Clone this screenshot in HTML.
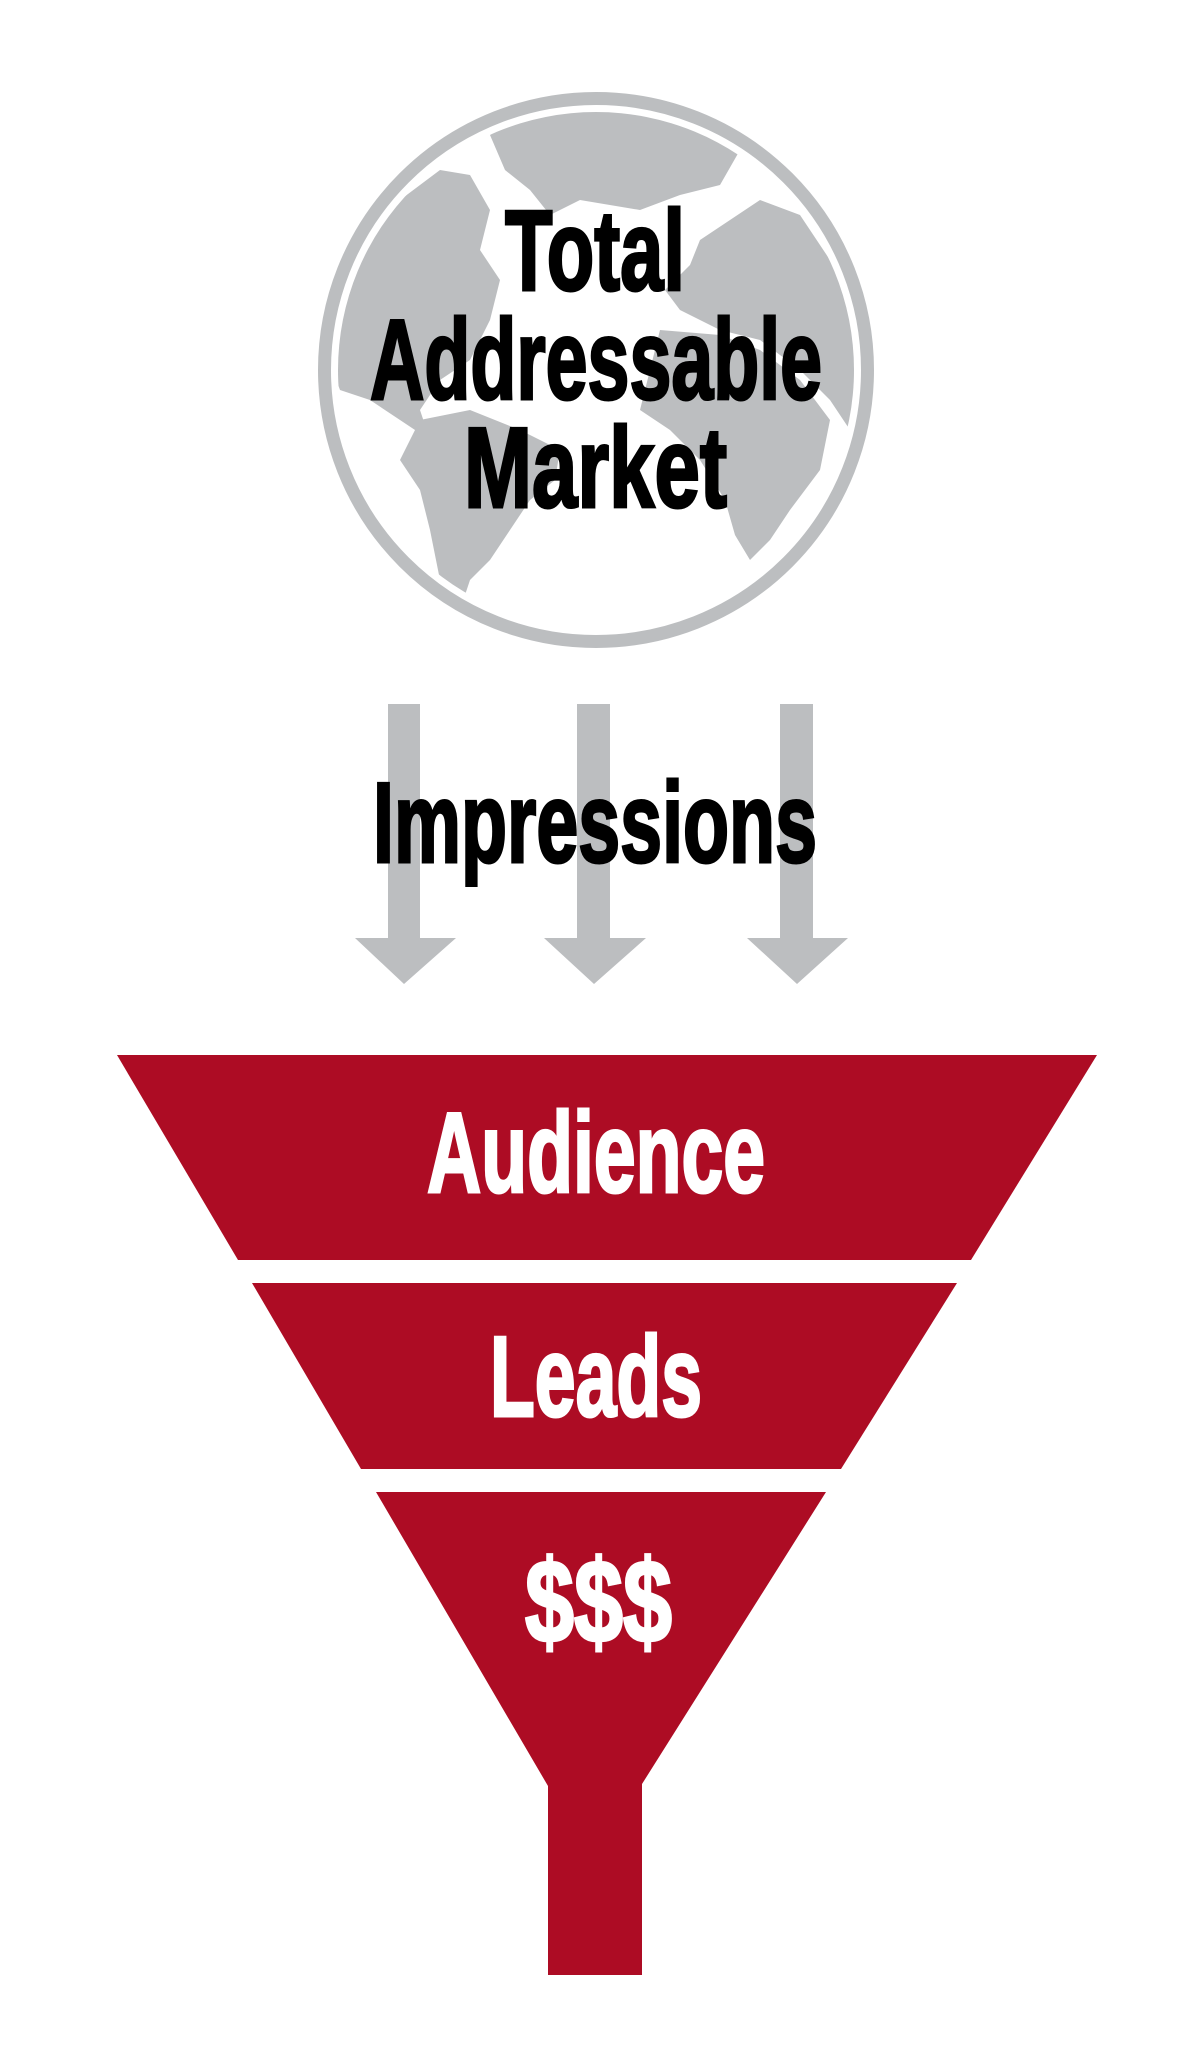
<!DOCTYPE html>
<html><head><meta charset="utf-8"><style>
html,body{margin:0;padding:0;background:#fff;}
svg{display:block;}
text{font-family:"Liberation Sans Narrow","Liberation Sans",sans-serif;font-weight:bold;}
</style></head><body>
<svg width="1194" height="2048" viewBox="0 0 1194 2048" xmlns="http://www.w3.org/2000/svg">
<defs><clipPath id="c"><circle cx="596" cy="370" r="258"/></clipPath></defs>
<circle cx="596" cy="370" r="271.5" fill="none" stroke="#bcbec0" stroke-width="13"/>
<g clip-path="url(#c)" fill="#bcbec0">
<polygon points="490,135 520,110 600,100 700,115 740,150 720,185 680,195 640,210 580,200 550,215 530,190 505,170"/>
<polygon points="325,300 360,240 400,200 440,170 470,175 490,210 480,250 500,280 490,320 470,360 440,380 420,410 430,440 400,420 370,400 340,390 325,350"/>
<polygon points="700,240 760,200 800,215 830,260 860,320 870,400 850,430 830,400 800,370 760,340 720,330 680,310 665,290 690,265"/>
<polygon points="660,330 720,335 760,350 800,380 830,420 820,470 790,510 770,540 750,560 735,535 725,500 700,460 670,430 640,410 650,370"/>
<polygon points="420,420 470,410 520,430 560,450 555,480 530,500 510,530 490,560 470,580 460,610 470,630 445,620 440,580 430,530 420,490 400,460"/>
</g>
<g fill="#000" stroke="#000" stroke-width="3" font-size="114">
<text x="505" y="290" textLength="180" lengthAdjust="spacingAndGlyphs">Total</text>
<text x="370" y="399" textLength="452" lengthAdjust="spacingAndGlyphs">Addressable</text>
<text x="464" y="507" textLength="263" lengthAdjust="spacingAndGlyphs">Market</text>
</g>
<g fill="#bcbec0">
<polygon points="388,704 420,704 420,938 456,938 404,984 355,938 388,938"/>
<polygon points="577,704 610,704 610,938 646,938 594,984 544,938 577,938"/>
<polygon points="780,704 813,704 813,938 848,938 797,984 747,938 780,938"/>
</g>
<text x="373" y="862" font-size="114" fill="#000" stroke="#000" stroke-width="3" textLength="444" lengthAdjust="spacingAndGlyphs">Impressions</text>
<g fill="#ad0c24">
<polygon points="117,1055 1097,1055 971,1260 238,1260"/>
<polygon points="252,1283 957,1283 841,1469 361,1469"/>
<polygon points="376,1492 826,1492 642,1784 642,1975 548,1975 548,1786"/>
</g>
<g fill="#fff" stroke="#fff" stroke-width="3" font-size="114">
<text x="427" y="1192" textLength="338" lengthAdjust="spacingAndGlyphs">Audience</text>
<text x="490" y="1416" textLength="212" lengthAdjust="spacingAndGlyphs">Leads</text>
<text x="525" y="1642" font-size="118" textLength="147" lengthAdjust="spacingAndGlyphs">$$$</text>
</g>
</svg>
</body></html>
